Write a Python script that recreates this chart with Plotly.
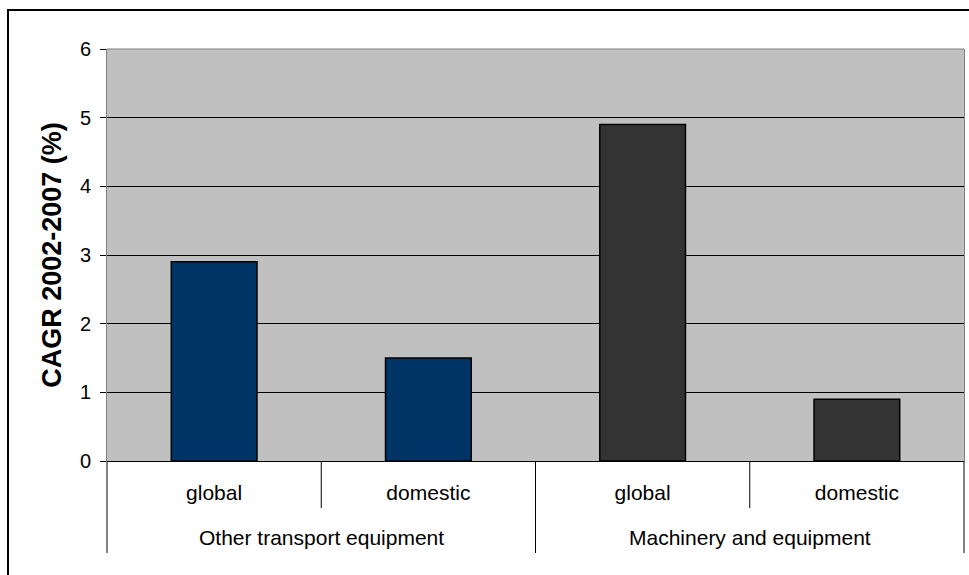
import plotly.graph_objects as go

# Compound annual growth rates, 2002-2007
groups = ["Other transport equipment", "Other transport equipment",
          "Machinery and equipment", "Machinery and equipment"]
markets = ["global", "domestic", "global", "domestic"]
cagr = [2.9, 1.5, 4.9, 0.9]
bar_colors = ["#003366", "#003366", "#333333", "#333333"]
y_ticks = [0, 1, 2, 3, 4, 5, 6]

W, H = 969, 575
L, T, R, B = 107, 49, 5, 114
pw, ph = W - L - R, H - T - B

FONT = "Liberation Sans, Arial, sans-serif"
TXT = 20
CAT = 21
x_pos = list(range(len(markets)))

fig = go.Figure(go.Bar(
    x=x_pos, y=cagr, width=0.4,
    marker=dict(color=bar_colors, line=dict(color="black", width=1.5)),
))

def px_y(p):
    # pixel offset below the x axis -> paper fraction
    return -p / ph

shapes = []
# outer frame around the whole chart
shapes.append(dict(type="rect", xref="paper", yref="paper",
                   x0=(8 - L) / pw, x1=(W + 10 - L) / pw,
                   y0=px_y(H + 10 - (T + ph)), y1=1 + (T - 10) / ph,
                   line=dict(color="black", width=2), layer="below"))
# top edge of the plot area
shapes.append(dict(type="line", xref="paper", yref="paper", x0=0, x1=1, y0=1, y1=1,
                   line=dict(color="#808080", width=1)))

# separators below the axis: short between markets, long between groups
n = len(markets)
for i in range(n + 1):
    xd = i / n
    if i == 0 or i == n or groups[i - 1] != groups[i]:
        depth = 92
    else:
        depth = 47
    shapes.append(dict(type="line", xref="paper", yref="paper",
                       x0=xd, x1=xd, y0=0, y1=px_y(depth),
                       line=dict(color="black", width=1)))

# group labels centred under their members
annotations = []
seen = []
for g in groups:
    if g not in seen:
        seen.append(g)
for g in seen:
    idx = [i for i, gg in enumerate(groups) if gg == g]
    annotations.append(dict(x=sum(idx) / len(idx), y=px_y(76), xref="x", yref="paper",
                            text=g, showarrow=False, xanchor="center", yanchor="middle",
                            font=dict(family=FONT, size=CAT, color="black")))

fig.update_layout(
    width=W, height=H,
    margin=dict(l=L, r=R, t=T, b=B, autoexpand=False),
    paper_bgcolor="white", plot_bgcolor="#C0C0C0",
    showlegend=False,
    shapes=shapes, annotations=annotations,
    font=dict(family=FONT, color="black"),
    bargap=0.6,
)
fig.update_xaxes(
    range=[-0.5, n - 0.5], tickmode="array", tickvals=x_pos, ticktext=markets,
    showgrid=False, zeroline=False, showline=False, ticks="outside", ticklen=13,
    tickcolor="rgba(0,0,0,0)", tickfont=dict(family=FONT, size=CAT, color="black"),
    fixedrange=True,
)
fig.update_yaxes(
    range=[0, 6], tickmode="array", tickvals=y_ticks,
    showgrid=True, gridcolor="black", gridwidth=1,
    zeroline=True, zerolinecolor="black", zerolinewidth=1,
    showline=True, linecolor="#808080", linewidth=1, mirror=True,
    ticks="outside", ticklen=6, tickcolor="black", ticklabelstandoff=5,
    tickfont=dict(family=FONT, size=TXT, color="black"),
    title=dict(text="<b>CAGR 2002-2007 (%)</b>", standoff=10,
               font=dict(family=FONT, size=27, color="black")),
    fixedrange=True,
)

fig.write_html("out.html")
